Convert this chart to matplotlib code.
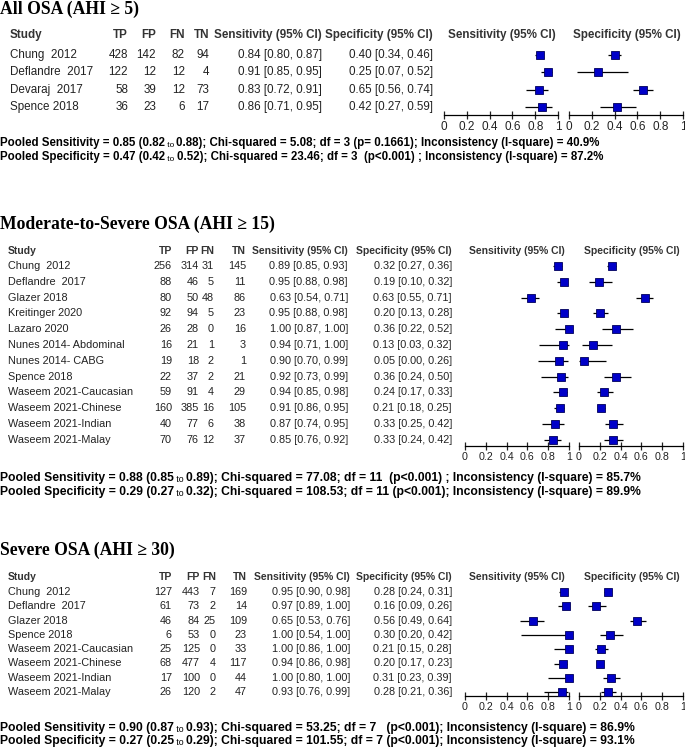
import matplotlib
matplotlib.use('Agg')
import matplotlib.pyplot as plt
from matplotlib import font_manager

# ---------------- data ----------------
s1_title = 'All OSA (AHI \u2265 5)'
s1_studies = ['Chung  2012', 'Deflandre  2017', 'Devaraj  2017', 'Spence 2018']
s1_tp = [428, 122, 58, 36]
s1_fp = [142, 12, 39, 23]
s1_fn = [82, 12, 12, 6]
s1_tn = [94, 4, 73, 17]
s1_sens = [0.84, 0.91, 0.83, 0.86]
s1_sens_lo = [0.80, 0.85, 0.72, 0.71]
s1_sens_hi = [0.87, 0.95, 0.91, 0.95]
s1_spec = [0.40, 0.25, 0.65, 0.42]
s1_spec_lo = [0.34, 0.07, 0.56, 0.27]
s1_spec_hi = [0.46, 0.52, 0.74, 0.59]
s1_pooled_sens = ('Pooled Sensitivity = 0.85 (0.82', '0.88); Chi-squared = 5.08; df = 3 (p= 0.1661); Inconsistency (I-square) = 40.9%')
s1_pooled_spec = ('Pooled Specificity = 0.47 (0.42', '0.52); Chi-squared = 23.46; df = 3  (p<0.001) ; Inconsistency (I-square) = 87.2%')

s2_title = 'Moderate-to-Severe OSA (AHI \u2265 15)'
s2_studies = ['Chung  2012', 'Deflandre  2017', 'Glazer 2018', 'Kreitinger 2020', 'Lazaro 2020',
              'Nunes 2014- Abdominal', 'Nunes 2014- CABG', 'Spence 2018', 'Waseem 2021-Caucasian',
              'Waseem 2021-Chinese', 'Waseem 2021-Indian', 'Waseem 2021-Malay']
s2_tp = [256, 88, 80, 92, 26, 16, 19, 22, 59, 160, 40, 70]
s2_fp = [314, 46, 50, 94, 28, 21, 18, 37, 91, 385, 77, 76]
s2_fn = [31, 5, 48, 5, 0, 1, 2, 2, 4, 16, 6, 12]
s2_tn = [145, 11, 86, 23, 16, 3, 1, 21, 29, 105, 38, 37]
s2_sens = [0.89, 0.95, 0.63, 0.95, 1.00, 0.94, 0.90, 0.92, 0.94, 0.91, 0.87, 0.85]
s2_sens_lo = [0.85, 0.88, 0.54, 0.88, 0.87, 0.71, 0.70, 0.73, 0.85, 0.86, 0.74, 0.76]
s2_sens_hi = [0.93, 0.98, 0.71, 0.98, 1.00, 1.00, 0.99, 0.99, 0.98, 0.95, 0.95, 0.92]
s2_spec = [0.32, 0.19, 0.63, 0.20, 0.36, 0.13, 0.05, 0.36, 0.24, 0.21, 0.33, 0.33]
s2_spec_lo = [0.27, 0.10, 0.55, 0.13, 0.22, 0.03, 0.00, 0.24, 0.17, 0.18, 0.25, 0.24]
s2_spec_hi = [0.36, 0.32, 0.71, 0.28, 0.52, 0.32, 0.26, 0.50, 0.33, 0.25, 0.42, 0.42]
s2_pooled_sens = ('Pooled Sensitivity = 0.88 (0.85', '0.89); Chi-squared = 77.08; df = 11  (p<0.001) ; Inconsistency (I-square) = 85.7%')
s2_pooled_spec = ('Pooled Specificity = 0.29 (0.27', '0.32); Chi-squared = 108.53; df = 11 (p<0.001); Inconsistency (I-square) = 89.9%')

s3_title = 'Severe OSA (AHI \u2265 30)'
s3_studies = ['Chung  2012', 'Deflandre  2017', 'Glazer 2018', 'Spence 2018', 'Waseem 2021-Caucasian',
              'Waseem 2021-Chinese', 'Waseem 2021-Indian', 'Waseem 2021-Malay']
s3_tp = [127, 61, 46, 6, 25, 68, 17, 26]
s3_fp = [443, 73, 84, 53, 125, 477, 100, 120]
s3_fn = [7, 2, 25, 0, 0, 4, 0, 2]
s3_tn = [169, 14, 109, 23, 33, 117, 44, 47]
s3_sens = [0.95, 0.97, 0.65, 1.00, 1.00, 0.94, 1.00, 0.93]
s3_sens_lo = [0.90, 0.89, 0.53, 0.54, 0.86, 0.86, 0.80, 0.76]
s3_sens_hi = [0.98, 1.00, 0.76, 1.00, 1.00, 0.98, 1.00, 0.99]
s3_spec = [0.28, 0.16, 0.56, 0.30, 0.21, 0.20, 0.31, 0.28]
s3_spec_lo = [0.24, 0.09, 0.49, 0.20, 0.15, 0.17, 0.23, 0.21]
s3_spec_hi = [0.31, 0.26, 0.64, 0.42, 0.28, 0.23, 0.39, 0.36]
s3_pooled_sens = ('Pooled Sensitivity = 0.90 (0.87', '0.93); Chi-squared = 53.25; df = 7   (p<0.001); Inconsistency (I-square) = 86.9%')
s3_pooled_spec = ('Pooled Specificity = 0.27 (0.25', '0.29); Chi-squared = 101.55; df = 7 (p<0.001); Inconsistency (I-square) = 93.1%')

col_labels = ['TP', 'FP', 'FN', 'TN', 'Sensitivity (95% CI)', 'Specificity (95% CI)']
tick_vals = [0, 0.2, 0.4, 0.6, 0.8, 1.0]
tick_labels = ['0', '0.2', '0.4', '0.6', '0.8', '1']

# ---------------- fonts ----------------
def has_font(name):
    try:
        font_manager.findfont(font_manager.FontProperties(family=name), fallback_to_default=False)
        return True
    except Exception:
        return False

SANS = ['Liberation Sans', 'DejaVu Sans']
SERIF = ['Liberation Serif', 'DejaVu Serif']
HAS_NARROW = has_font('Liberation Sans Narrow')
NARROW = ['Liberation Sans Narrow', 'Liberation Sans', 'DejaVu Sans'] if HAS_NARROW else SANS
plt.rcParams['font.family'] = SANS

W, H = 685, 748
fig = plt.figure(figsize=(W / 100, H / 100), dpi=100)
canvas = fig.add_axes([0, 0, 1, 1])
canvas.set_xlim(0, W)
canvas.set_ylim(H, 0)
canvas.axis('off')

TXT = '#222222'
HDR = '#333333'


def pooled_line(y, parts, size):
    t1 = canvas.text(0, y, parts[0], weight='bold', size=size, va='center', ha='left', color='black')
    t2 = canvas.annotate(' to ', xy=(1, 0), xycoords=t1, va='bottom', ha='left',
                         size=size * 0.72, color='black')
    canvas.annotate(parts[1], xy=(1, 0), xycoords=t2, va='bottom', ha='left',
                    weight='bold', size=size, color='black')


def section(lay, title, studies, tp, fp, fn, tn, sens, sens_lo, sens_hi, spec, spec_lo, spec_hi,
            psens, pspec):
    canvas.text(0, lay['title_y'], title, family=SERIF, weight='bold', size=12.7,
                va='center', ha='left')
    fs = lay['fs']
    hfs = lay['hfs']
    hy = lay['header_y']
    canvas.text(lay['study_x'], hy, 'Study', weight='bold', size=hfs, va='center', ha='left', color=HDR)
    for lab, x in zip(col_labels, lay['cols']):
        canvas.text(x, hy, lab, weight='bold', size=hfs, va='center', ha='right', color=HDR)
    n = len(studies)
    for i in range(n):
        y = lay['row0'] + i * lay['dy']
        canvas.text(lay['study_x'], y, studies[i], size=fs, va='center', ha='left', color=TXT)
        vals = [str(tp[i]), str(fp[i]), str(fn[i]), str(tn[i]),
                f'{sens[i]:.2f} [{sens_lo[i]:.2f}, {sens_hi[i]:.2f}]',
                f'{spec[i]:.2f} [{spec_lo[i]:.2f}, {spec_hi[i]:.2f}]']
        for v, x in zip(vals, lay['cols']):
            canvas.text(x, y, v, size=fs, va='center', ha='right', color=TXT)

    top_px = lay['row0'] - 0.6 * lay['dy']
    bot_px = lay['axis_y']
    for (x0, x1), est, lo, hi, hdr, hx in [
            (lay['sens_ax'], sens, sens_lo, sens_hi, 'Sensitivity (95% CI)', lay['hdr_x'][0]),
            (lay['spec_ax'], spec, spec_lo, spec_hi, 'Specificity (95% CI)', lay['hdr_x'][1])]:
        ax = fig.add_axes([x0 / W, 1 - bot_px / H, (x1 - x0) / W, (bot_px - top_px) / H])
        ax.patch.set_visible(False)
        ax.set_xlim(0, 1)
        ax.set_ylim((bot_px - lay['row0']) / lay['dy'], (top_px - lay['row0']) / lay['dy'])
        rows = list(range(n))
        ax.hlines(rows, lo, hi, color='black', lw=0.9, clip_on=False)
        ax.plot(est, rows, 's', ms=lay['ms'], mfc='#0000C8', mec='#00005A', mew=0.6,
                ls='none', clip_on=False, zorder=3)
        for s in ['left', 'right', 'top']:
            ax.spines[s].set_visible(False)
        ax.spines['bottom'].set_linewidth(0.9)
        ax.set_yticks([])
        ax.set_xticks(tick_vals)
        ax.set_xticklabels(tick_labels, family=NARROW)
        ax.tick_params(axis='x', direction='inout', length=6, width=0.9, pad=1.5,
                       labelsize=lay['tick_fs'], colors='#222222')
        canvas.text(hx, hy, hdr, weight='bold', size=hfs, va='center', ha='center', color=HDR)

    pooled_line(lay['pooled_y'][0], psens, lay['pfs'])
    pooled_line(lay['pooled_y'][1], pspec, lay['pfs'])


narrow_scale = 1.0 if HAS_NARROW else 0.85

lay1 = dict(title_y=9, header_y=35, row0=55, dy=17.4, axis_y=115, study_x=10, fs=8.4, hfs=8.4,
            cols=[128, 156, 185, 209, 322, 433], sens_ax=(444, 558), spec_ax=(569, 683),
            hdr_x=(502, 627), ms=6, tick_fs=10 * narrow_scale, pooled_y=(143, 157), pfs=8.3)
lay2 = dict(title_y=224, header_y=251, row0=266, dy=15.8, axis_y=446, study_x=8, fs=7.8, hfs=7.5,
            cols=[172, 199, 214, 246, 348, 452], sens_ax=(465, 569), spec_ax=(579, 683),
            hdr_x=(517, 632), ms=5.3, tick_fs=9 * narrow_scale, pooled_y=(478, 492), pfs=8.75)
lay3 = dict(title_y=550, header_y=577, row0=592, dy=14.3, axis_y=696, study_x=8, fs=7.8, hfs=7.5,
            cols=[172, 200, 216, 247, 350, 452], sens_ax=(465, 569), spec_ax=(579, 683),
            hdr_x=(517, 632), ms=5.3, tick_fs=9 * narrow_scale, pooled_y=(728, 741), pfs=8.75)

section(lay1, s1_title, s1_studies, s1_tp, s1_fp, s1_fn, s1_tn, s1_sens, s1_sens_lo, s1_sens_hi,
        s1_spec, s1_spec_lo, s1_spec_hi, s1_pooled_sens, s1_pooled_spec)
section(lay2, s2_title, s2_studies, s2_tp, s2_fp, s2_fn, s2_tn, s2_sens, s2_sens_lo, s2_sens_hi,
        s2_spec, s2_spec_lo, s2_spec_hi, s2_pooled_sens, s2_pooled_spec)
section(lay3, s3_title, s3_studies, s3_tp, s3_fp, s3_fn, s3_tn, s3_sens, s3_sens_lo, s3_sens_hi,
        s3_spec, s3_spec_lo, s3_spec_hi, s3_pooled_sens, s3_pooled_spec)

fig.savefig('out.png', dpi=100)
